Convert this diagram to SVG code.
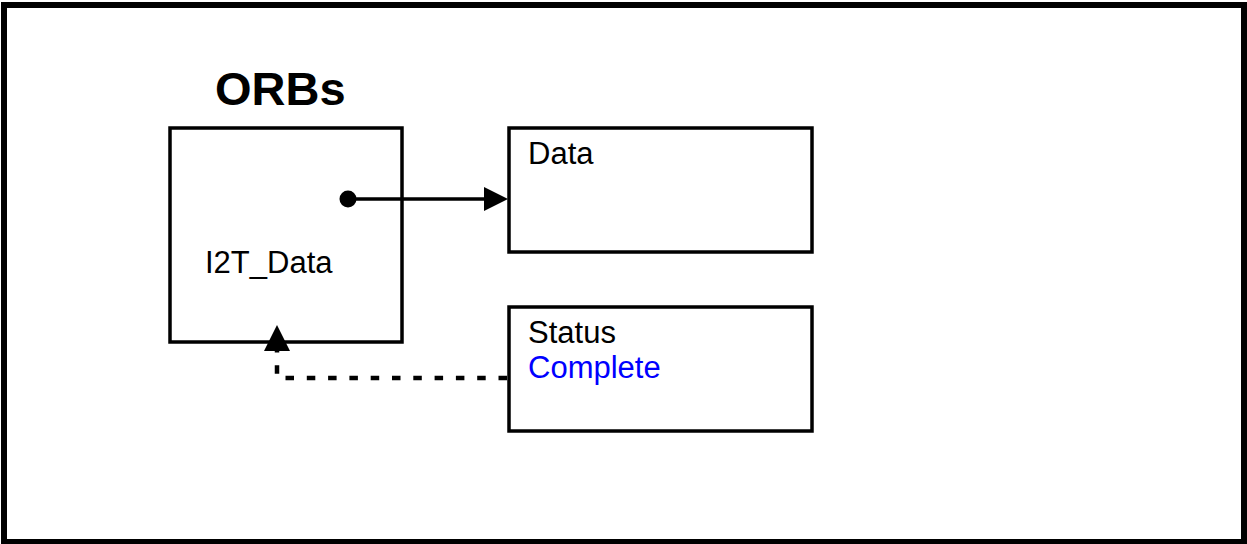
<svg xmlns="http://www.w3.org/2000/svg" width="1247" height="544" viewBox="0 0 1247 544">
<style>
.box{fill:#fff;stroke:#000;stroke-width:3.5}
.t{font-family:"Liberation Sans",Arial,sans-serif;font-size:31px;fill:#000}
.b{font-weight:bold;font-size:47px}
.blue{fill:#0000ff}
.solid{fill:none;stroke:#000;stroke-width:3.5}
.dash{fill:none;stroke:#000;stroke-width:4.5;stroke-dasharray:8.5 12.8}
</style>
<rect x="0" y="0" width="1247" height="544" fill="#fff"/>
<rect x="4" y="5" width="1240" height="537" fill="none" stroke="#000" stroke-width="6"/>
<g id="orbs-title"><text class="t b" x="215" y="105">ORBs</text></g>
<g id="orbs">
<rect class="box" x="170" y="128" width="232" height="214"/>
<text class="t" x="205" y="273">I2T_Data</text>
</g>
<g id="data">
<rect class="box" x="509" y="128" width="303" height="124"/>
<text class="t" x="528" y="164">Data</text>
</g>
<g id="status">
<rect class="box" x="509" y="307" width="303" height="124"/>
<text class="t" x="528" y="343">Status</text>
<text class="t blue" x="528" y="378">Complete</text>
</g>
<g id="connectors">
<circle cx="348" cy="199" r="8.5" fill="#000"/>
<line class="solid" x1="348" y1="199" x2="486" y2="199"/>
<polygon points="484,187 508,199 484,211" fill="#000"/>
<path class="dash" d="M507,378 H277 V350"/>
<polygon points="264,351 290,351 277,325" fill="#000"/>
</g>
</svg>
